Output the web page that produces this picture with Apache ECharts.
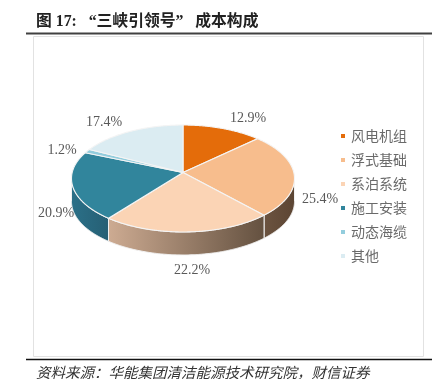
<!DOCTYPE html>
<html>
<head>
<meta charset="utf-8">
<style>html,body{margin:0;padding:0;background:#fff}#chart{width:447px;height:379px}</style>
<script src="https://cdn.jsdelivr.net/npm/echarts@6/dist/echarts.min.js"></script>
</head>
<body>
<div id="chart"></div>
<script>
var categories = ['风电机组', '浮式基础', '系泊系统', '施工安装', '动态海缆', '其他'];
var shares = [12.9, 25.4, 22.2, 20.9, 1.2, 17.4];

var topColors = ['#e46c0a', '#f7bd8d', '#fbd4b5', '#31859c', '#93cddd', '#dbecf2'];
var wallColors = [
  ['#8a4206', '#8a4206'],
  ['#6b5340', '#5c4533'],
  ['#cdab92', '#645140'],
  ['#2b7088', '#265f74'],
  ['#5a7f88', '#5a7f88'],
  ['#85908f', '#85908f']
];
// label centre, px
var labelPos = [[248, 118], [320, 199], [192, 270], [56, 213], [62, 150], [104, 122]];

// pie projection: tilted disc with a little perspective
var CX = 183, CY = 172.5, RX = 110.8, RY = 52.8, PERSP = 0.112, DEPTH = 23;

function project(deg) {
  var t = deg * Math.PI / 180;
  var u = Math.sin(t), v = -Math.cos(t);
  var f = 1 / (1 - PERSP * v);
  return [CX + RX * u * f, CY + RY * v * f];
}

function rim(a0, a1) {
  var pts = [];
  var n = Math.max(2, Math.ceil((a1 - a0) * 2));
  for (var i = 0; i <= n; i++) pts.push(project(a0 + (a1 - a0) * i / n));
  return pts;
}

var total = shares.reduce(function (a, b) { return a + b; }, 0);
var WALL_FROM = Math.acos(-PERSP) * 180 / Math.PI;
var WALL_TO = 360 - WALL_FROM;

function sliceItem(idx) {
  return function () {
    var before = 0;
    for (var i = 0; i < idx; i++) before += shares[i];
    var a0 = before / total * 360;
    var a1 = (before + shares[idx]) / total * 360;
    var kids = [];

    var w0 = Math.max(a0, WALL_FROM), w1 = Math.min(a1, WALL_TO);
    if (w1 > w0) {
      var edge = rim(w0, w1);
      var low = edge.map(function (p) { return [p[0], p[1] + DEPTH]; }).reverse();
      var xs = edge.map(function (p) { return p[0]; });
      var xMin = Math.min.apply(null, xs), xMax = Math.max.apply(null, xs);
      kids.push({
        type: 'polygon', z2: 1,
        shape: { points: edge.concat(low) },
        style: {
          fill: new echarts.graphic.LinearGradient(xMin, 0, xMax, 0, [
            { offset: 0, color: wallColors[idx][0] },
            { offset: 1, color: wallColors[idx][1] }
          ], true),
          stroke: '#f2f2f2', lineWidth: 1
        }
      });
    }

    kids.push({
      type: 'polygon', z2: 2,
      shape: { points: [[CX, CY]].concat(rim(a0, a1)) },
      style: { fill: topColors[idx], stroke: '#f4f4f4', lineWidth: 1.1 }
    });
    kids.push({
      type: 'text', z2: 3,
      style: {
        text: shares[idx].toFixed(1) + '%',
        x: labelPos[idx][0], y: labelPos[idx][1],
        align: 'center', verticalAlign: 'middle',
        fill: '#595959', font: '14px "Liberation Serif"'
      }
    });
    return { type: 'group', children: kids };
  };
}

var series = categories.map(function (name, i) {
  return {
    type: 'custom', name: name, coordinateSystem: 'none',
    data: [[shares[i]]], renderItem: sliceItem(i),
    itemStyle: { color: topColors[i] }, silent: true
  };
});

var chart = echarts.init(document.getElementById('chart'), null, { renderer: 'canvas' });
chart.setOption({
  animation: false,
  legend: {
    data: categories, orient: 'vertical', left: 336, top: 123,
    itemWidth: 4, itemHeight: 4, itemGap: 8, icon: 'rect',
    textStyle: { fontSize: 14, color: '#6a6a6a', fontFamily: '"Noto Sans CJK SC"', height: 16, lineHeight: 16, padding: [0, 0, 0, 1] },
    selectedMode: false
  },
  graphic: [
    { type: 'rect', z: -1, shape: { x: 33.5, y: 36.5, width: 390, height: 320 }, style: { fill: '#fff', stroke: '#e2e2e2', lineWidth: 1 } },
    { type: 'line', shape: { x1: 26, y1: 33.5, x2: 432, y2: 33.5 }, style: { stroke: '#404040', lineWidth: 2 } },
    { type: 'line', shape: { x1: 26, y1: 359.5, x2: 432, y2: 359.5 }, style: { stroke: '#111', lineWidth: 1.5 } },
    { type: 'text', left: 36, top: 14, style: { text: '图 17:   “三峡引领号”   成本构成', fill: '#222', font: 'bold 15.8px "Liberation Serif","Noto Sans CJK SC"' } },
    { type: 'text', left: 36, top: 365, style: { text: '资料来源\uFF1A华能集团清洁能源技术研究院\uFF0C财信证券', fill: '#333', font: 'italic 14.5px "Noto Sans CJK SC"' } }
  ],
  series: series
});
</script>
</body>
</html>
